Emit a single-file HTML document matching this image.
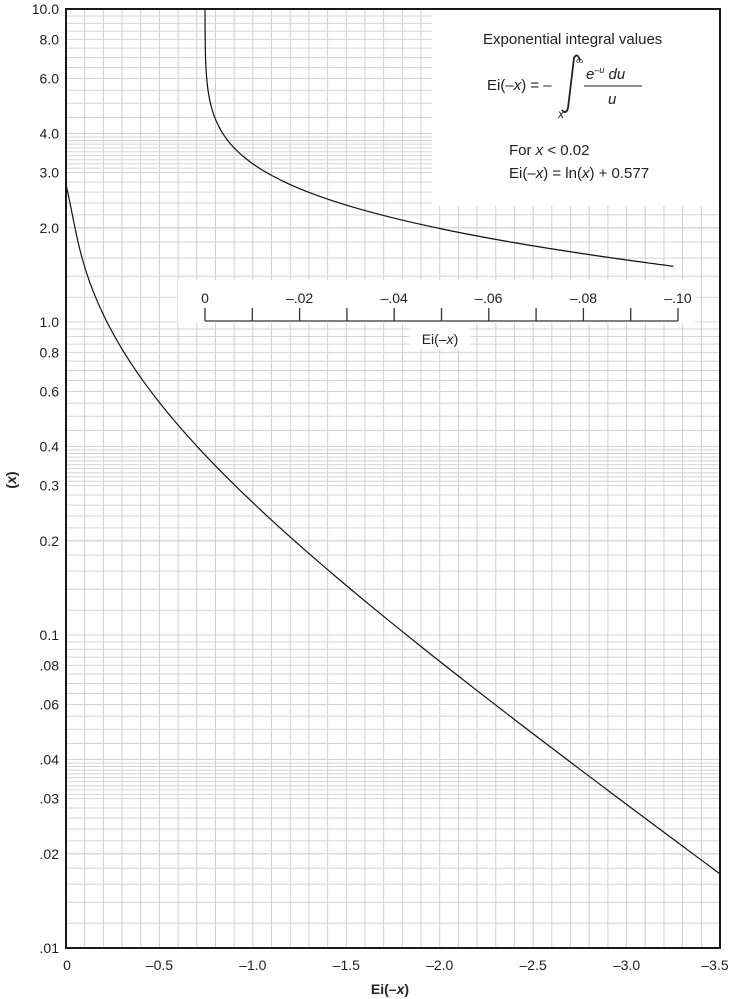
<!DOCTYPE html>
<html><head><meta charset="utf-8"><style>
html,body{margin:0;padding:0;background:#fff;}
svg{display:block;font-family:"Liberation Sans",sans-serif;}
</style></head><body>
<svg id="s" width="733" height="999" xmlns="http://www.w3.org/2000/svg"></svg>
<script>
const X0=66,X1=720,Y0=9,Y1=948;
const px=v=>X0+(-v)/3.5*(X1-X0);
const py=v=>Y1-(Math.log10(v)+2)/3*(Y1-Y0);
let h='';
for(let i=1;i<35;i++){const x=X0+i*(X1-X0)/35;h+=`<line x1="${x}" y1="${Y0}" x2="${x}" y2="${Y1}" stroke="#cfcfcf" stroke-width="1"/>`;}
let ys=[];
for(let d of [0.01,0.1,1]){
 for(let m=1;m<2;m+=0.2)ys.push(m*d);
 for(let m=2;m<3;m+=0.2)ys.push(m*d);
 for(let m=3;m<4;m+=0.1)ys.push(m*d);
 for(let m=4;m<10;m+=0.5)ys.push(m*d);
}
for(const v of ys){const y=py(v);if(y<Y0+1||y>Y1-1)continue;h+=`<line x1="${X0}" y1="${y}" x2="${X1}" y2="${y}" stroke="#d4d4d4" stroke-width="1"/>`;}
h+=`<rect x="432" y="${Y0+1}" width="${X1-432}" height="196" fill="#fff"/>`;
h+=`<rect x="178" y="280" width="517" height="43" fill="#fff"/>`;
h+=`<rect x="410" y="323" width="60" height="26" fill="#fff"/>`;
function E1(x){const g=0.5772156649015329;let s=0,t=1;for(let k=1;k<80;k++){t*=-x/k;s+=t/k;}return -g-Math.log(x)-s;}
const d=px(-E1(2.75))-X0;
let p=[];
for(let l=Math.log10(2.75);l>=-2;l-=0.002){const x=Math.pow(10,l);const e=-E1(x);let X=px(e);if(x>1.8)X-=d*Math.pow((x-1.8)/0.95,2);if(X>X1)break;p.push([X,py(x)]);}
h+=`<clipPath id="c"><rect x="${X0}" y="${Y0}" width="${X1-X0}" height="${Y1-Y0}"/></clipPath>`;
h+=`<polyline clip-path="url(#c)" fill="none" stroke="#111" stroke-width="1.2" points="${p.map(a=>a[0].toFixed(2)+','+a[1].toFixed(2)).join(' ')}"/>`;
p=[];
for(let l=1;l>=Math.log10(1.5);l-=0.002){const x=Math.pow(10,l);const e=E1(x);p.push([205+e/0.1*473,py(x)]);}
h+=`<polyline fill="none" stroke="#111" stroke-width="1.2" points="${p.map(a=>a[0].toFixed(2)+','+a[1].toFixed(2)).join(' ')}"/>`;
h+=`<line x1="205" y1="321" x2="678" y2="321" stroke="#333" stroke-width="1.3"/>`;
for(let k=0;k<=10;k++){const x=205+k*47.3;h+=`<line x1="${x}" y1="308" x2="${x}" y2="321" stroke="#333" stroke-width="1.3"/>`;}
const il=['0','–.02','–.04','–.06','–.08','–.10'];
il.forEach((t,i)=>{h+=`<text x="${205+i*94.6}" y="303" font-size="14" text-anchor="middle" fill="#222">${t}</text>`;});
h+=`<text x="440" y="344" font-size="14" text-anchor="middle" fill="#222">Ei(–<tspan font-style="italic">x</tspan>)</text>`;
h+=`<rect x="${X0}" y="${Y0}" width="${X1-X0}" height="${Y1-Y0}" fill="none" stroke="#1a1a1a" stroke-width="2"/>`;
const yl=[[10,'10.0'],[8,'8.0'],[6,'6.0'],[4,'4.0'],[3,'3.0'],[2,'2.0'],[1,'1.0'],[.8,'0.8'],[.6,'0.6'],[.4,'0.4'],[.3,'0.3'],[.2,'0.2'],[.1,'0.1'],[.08,'.08'],[.06,'.06'],[.04,'.04'],[.03,'.03'],[.02,'.02'],[.01,'.01']];
for(const [v,t] of yl)h+=`<text x="59" y="${py(v)+5}" font-size="14" text-anchor="end" fill="#222">${t}</text>`;
const xl=['0','–0.5','–1.0','–1.5','–2.0','–2.5','–3.0','–3.5'];
xl.forEach((t,i)=>{let x=px(-i*0.5);if(i==0){x=67;}if(i==7)x=715;h+=`<text x="${x}" y="970" font-size="14" text-anchor="middle" fill="#222">${t}</text>`;});
h+=`<text x="390" y="994" font-size="14" font-weight="bold" text-anchor="middle" fill="#222">Ei(–<tspan font-style="italic">x</tspan>)</text>`;
h+=`<text transform="translate(16,480) rotate(-90)" font-size="14" font-weight="bold" text-anchor="middle" fill="#222">(<tspan font-style="italic">x</tspan>)</text>`;
h+=`<text x="483" y="44" font-size="15" fill="#222">Exponential integral values</text>`;
h+=`<text x="487" y="90" font-size="15" fill="#222">Ei(–<tspan font-style="italic">x</tspan>) = –</text>`;
h+=`<path d="M580,60 q-3,-8 -6,-2 l-6,50 q-2,7 -6,2" fill="none" stroke="#222" stroke-width="1.8"/>`;
h+=`<text x="576" y="64" font-size="10" fill="#222">∞</text>`;
h+=`<text x="558" y="118" font-size="12" font-style="italic" fill="#222">x</text>`;
h+=`<text x="586" y="79" font-size="15" font-style="italic" fill="#222">e<tspan font-size="9" dy="-6">–u</tspan><tspan dy="6"> du</tspan></text>`;
h+=`<line x1="584" y1="86" x2="642" y2="86" stroke="#222" stroke-width="1"/>`;
h+=`<text x="608" y="104" font-size="15" font-style="italic" fill="#222">u</text>`;
h+=`<text x="509" y="155" font-size="15" fill="#222">For <tspan font-style="italic">x</tspan> &lt; 0.02</text>`;
h+=`<text x="509" y="178" font-size="15" fill="#222">Ei(–<tspan font-style="italic">x</tspan>) = ln(<tspan font-style="italic">x</tspan>) + 0.577</text>`;
document.getElementById('s').innerHTML=h;
</script>
</body></html>
